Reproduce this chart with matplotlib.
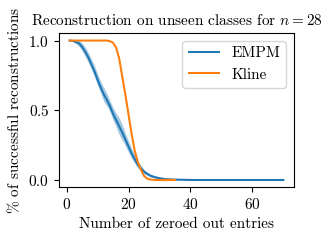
import numpy as np
import matplotlib.pyplot as plt

plt.rcParams['font.family'] = 'serif'
plt.rcParams['font.serif'] = ['cmr10']
plt.rcParams['mathtext.fontset'] = 'cm'
plt.rcParams['axes.formatter.use_mathtext'] = True
plt.rcParams['font.size'] = 11

# EMPM: mean and std over zeroed-out entries 1..70
empm_x = np.arange(1, 71)
empm_mean = [1.0, 0.998, 0.99, 0.98, 0.955, 0.92, 0.88, 0.83, 0.78, 0.72,
             0.665, 0.615, 0.575, 0.53, 0.475, 0.43, 0.385, 0.34, 0.29, 0.24,
             0.19, 0.15, 0.11, 0.085, 0.06, 0.045, 0.032, 0.024, 0.018, 0.013,
             0.009, 0.006, 0.005, 0.004, 0.003, 0.002, 0.002, 0.001, 0.001] + [0.0] * 31
empm_std = [0.0, 0.006, 0.012, 0.02, 0.028, 0.033, 0.035, 0.038, 0.04, 0.04,
            0.042, 0.05, 0.045, 0.04, 0.045, 0.05, 0.06, 0.055, 0.045, 0.04,
            0.035, 0.03, 0.025, 0.02, 0.015, 0.012, 0.01, 0.008, 0.006, 0.004] + [0.0] * 40

# Kline: 1..35
kline_x = np.arange(1, 36)
kline_mean = [1.0] * 13 + [0.995, 0.985, 0.95, 0.87, 0.74, 0.61, 0.47,
                           0.33, 0.21, 0.13, 0.075, 0.03, 0.01, 0.004, 0.001,
                           0.0, 0.0, 0.0, 0.0, 0.0, 0.0, 0.0]

fig = plt.figure(figsize=(3.33, 2.41), dpi=100)
ax = fig.add_axes([59 / 333, 1 - 187 / 241, 235 / 333, 154 / 241])

m = np.array(empm_mean)
s = np.array(empm_std)
ax.plot(empm_x, m, color='C0', label='EMPM')
ax.fill_between(empm_x, m - s, m + s, color='C0', alpha=0.4, linewidth=0)
ax.plot(kline_x, kline_mean, color='C1', label='Kline')

ax.set_yticks([0.0, 0.5, 1.0])
ax.set_xticks([0, 20, 40, 60])
ax.set_title(r'Reconstruction on unseen classes for $n=28$', fontsize=11)
ax.set_xlabel('Number of zeroed out entries')
ax.set_ylabel(r'$\%$ of successful reconstructions')
ax.legend(loc='upper right')

fig.savefig('out.png', dpi=100)
